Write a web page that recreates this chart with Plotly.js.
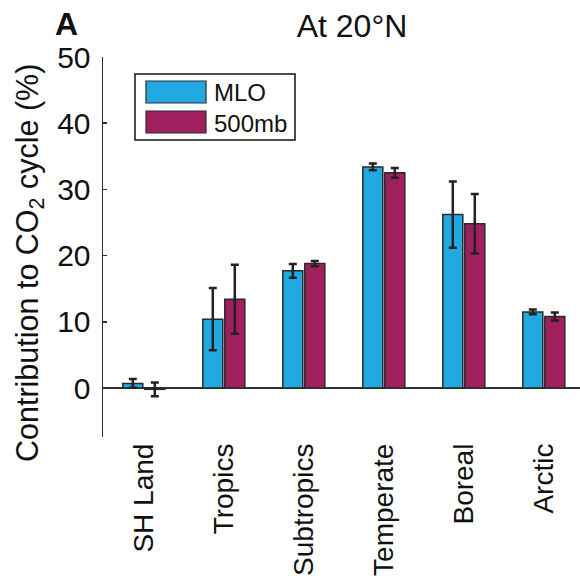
<!DOCTYPE html>
<html>
<head>
<meta charset="utf-8">
<script src="https://cdn.plot.ly/plotly-3.0.1.min.js"></script>
<style>html,body{margin:0;padding:0;background:#fff;}#chart{width:580px;height:585px;}</style>
</head>
<body>
<div id="chart"></div>
<script>
// Data
const categories = ["SH Land", "Tropics", "Subtropics", "Temperate", "Boreal", "Arctic"];
const seriesNames = ["MLO", "500mb"];
const mloValues = [0.7, 10.4, 17.7, 33.4, 26.2, 11.5];
const mloErrors = [0.65, 4.7, 1.05, 0.5, 5.0, 0.35];
const p500Values = [-0.2, 13.4, 18.8, 32.5, 24.8, 10.8];
const p500Errors = [1.05, 5.2, 0.4, 0.75, 4.5, 0.6];
const yTicks = [0, 10, 20, 30, 40, 50];

const colors = ["#23A9E1", "#A01F5E"];
const FONT = "Liberation Sans, Arial, Helvetica, sans-serif";

// plot area in pixels
const L = 103, R = 580, T = 57, B = 437;
const px = x => (x - L) / (R - L);
const py = y => (B - y) / (B - T);

function barTrace(name, vals, errs, color) {
  return {
    type: "bar", name: name, x: categories, y: vals,
    marker: {color: color, line: {color: "#2a2a2a", width: 1.5}},
    error_y: {type: "data", array: errs, visible: true, color: "#222", thickness: 2.5, width: 4},
    showlegend: false, hoverinfo: "x+y"
  };
}

const data = [
  barTrace(seriesNames[0], mloValues, mloErrors, colors[0]),
  barTrace(seriesNames[1], p500Values, p500Errors, colors[1])
];

const shapes = [
  {type: "rect", xref: "paper", yref: "paper", x0: px(135), x1: px(295), y0: py(140), y1: py(74),
   line: {color: "#111", width: 1.5}, fillcolor: "#fff", layer: "above"},
  {type: "rect", xref: "paper", yref: "paper", x0: px(146), x1: px(206), y0: py(103), y1: py(81),
   line: {color: "#2a2a2a", width: 1.2}, fillcolor: colors[0], layer: "above"},
  {type: "rect", xref: "paper", yref: "paper", x0: px(146), x1: px(206), y0: py(133), y1: py(111),
   line: {color: "#2a2a2a", width: 1.2}, fillcolor: colors[1], layer: "above"}
];

const annotations = [
  {text: "<b>A</b>", xref: "paper", yref: "paper", x: px(66), y: py(24), xanchor: "center", yanchor: "middle",
   showarrow: false, font: {family: FONT, size: 32, color: "#111"}},
  {text: seriesNames[0], xref: "paper", yref: "paper", x: px(212), y: py(93), xanchor: "left", yanchor: "middle",
   showarrow: false, font: {family: FONT, size: 24, color: "#111"}},
  {text: seriesNames[1], xref: "paper", yref: "paper", x: px(212), y: py(123), xanchor: "left", yanchor: "middle",
   showarrow: false, font: {family: FONT, size: 24, color: "#111"}},
  {text: "Contribution to CO<sub>2</sub> cycle (%)", xref: "paper", yref: "paper", x: px(29), y: py(263),
   xanchor: "center", yanchor: "middle", textangle: -90, showarrow: false,
   font: {family: FONT, size: 30.5, color: "#111"}}
];

const layout = {
  width: 580, height: 585,
  margin: {l: L, r: 580 - R, t: T, b: 585 - B, pad: 0},
  paper_bgcolor: "#fff", plot_bgcolor: "#fff",
  font: {family: FONT, color: "#111"},
  title: {text: "At 20°N", font: {family: FONT, size: 32, color: "#111"},
          xref: "paper", x: px(352), xanchor: "center", yref: "container", y: 1 - 26/585, yanchor: "middle"},
  barmode: "group", bargap: 0.45, bargroupgap: 0.09,
  xaxis: {
    type: "category", range: [-0.51, 5.4525], showgrid: false, showline: false, zeroline: false,
    ticks: "", tickangle: -90, tickfont: {family: FONT, size: 28, color: "#111"}, automargin: false
  },
  yaxis: {
    range: [-7.4, 50], tickvals: yTicks, ticktext: yTicks.map(String), showgrid: false,
    showline: true, linecolor: "#333", linewidth: 1.5, ticks: "inside", ticklen: 4, tickcolor: "#333", tickwidth: 1.5,
    zeroline: true, zerolinecolor: "#333", zerolinewidth: 1.5,
    tickfont: {family: FONT, size: 30, color: "#111"}, ticklabelstandoff: 5, automargin: false
  },
  shapes: shapes,
  annotations: annotations
};

Plotly.newPlot("chart", data, layout, {displayModeBar: false, staticPlot: true});
</script>
</body>
</html>
